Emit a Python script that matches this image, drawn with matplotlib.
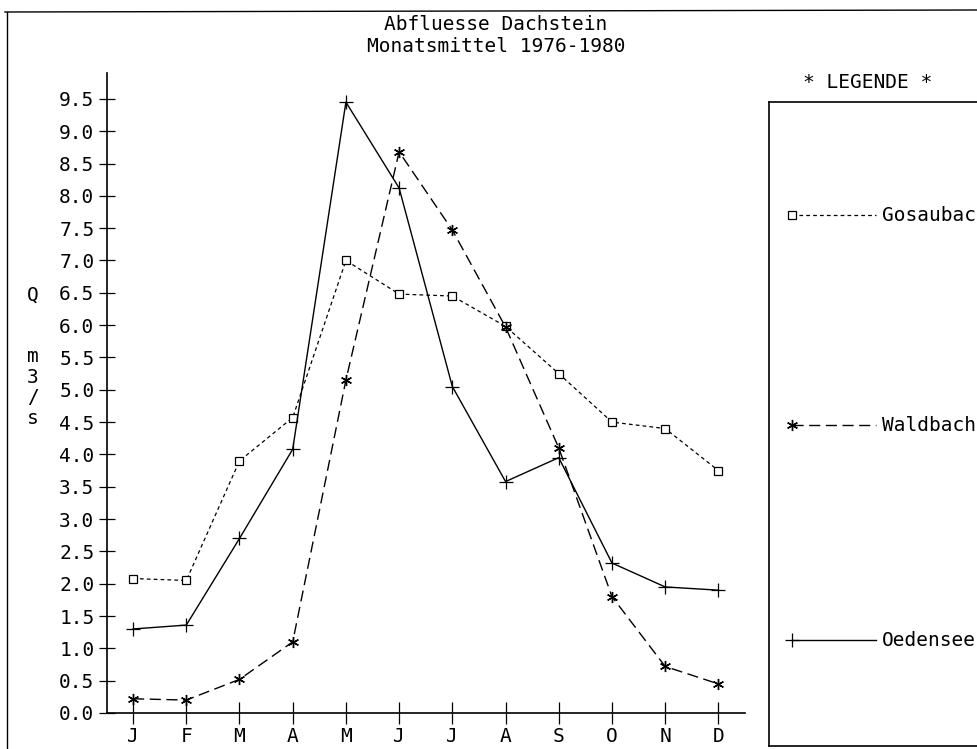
import numpy as np
import matplotlib.pyplot as plt
from matplotlib.lines import Line2D

plt.rcParams['font.family'] = ['DejaVu Sans Mono']

W, H = 978, 749
FS = 14

months = ['J', 'F', 'M', 'A', 'M', 'J', 'J', 'A', 'S', 'O', 'N', 'D']
gosaubach = [2.08, 2.05, 3.90, 4.57, 7.00, 6.48, 6.45, 5.98, 5.25, 4.50, 4.40, 3.75]
waldbach = [0.22, 0.20, 0.52, 1.10, 5.15, 8.68, 7.47, 5.97, 4.10, 1.80, 0.72, 0.45]
oedensee = [1.30, 1.36, 2.70, 4.08, 9.45, 8.12, 5.05, 3.58, 3.95, 2.32, 1.95, 1.90]
yticks = np.arange(0, 9.51, 0.5)

names = ['Gosaubach', 'Waldbach', 'Oedensee']
styles = [
    dict(marker='s', ms=6, mfc='white', mec='black', mew=0.9,
         ls=(0, (3, 2.5)), lw=0.9, color='black'),
    dict(marker=(6, 2, 0), ms=8, mec='black', mew=1.0,
         ls=(0, (8, 4)), lw=1.0, color='black'),
    dict(marker='+', ms=10, mec='black', mew=0.9,
         ls='-', lw=1.0, color='black'),
]
series = [gosaubach, waldbach, oedensee]


def fx(px):
    return px / W


def fy(py):
    return 1 - py / H


fig = plt.figure(figsize=(W / 100, H / 100), dpi=100)

# main plot area
ax = fig.add_axes([fx(107), fy(713), fx(745) - fx(107), fy(73) - fy(713)])
x = np.arange(len(months))
for vals, st in zip(series, styles):
    ax.plot(x, vals, **st)

ax.set_xlim(-0.49, 11.5)
ax.set_ylim(0, 9.9)
ax.set_xticks(x)
ax.set_xticklabels(months)
ax.set_yticks(yticks)
ax.set_yticklabels(['%.1f' % v for v in yticks])
for s in ['top', 'right']:
    ax.spines[s].set_visible(False)
for s in ['left', 'bottom']:
    ax.spines[s].set_linewidth(1.2)
ax.tick_params(axis='y', direction='inout', length=12, width=0.9,
               labelsize=FS, pad=3)
ax.tick_params(axis='x', direction='inout', length=16, width=0.9,
               labelsize=FS, pad=2)

# stacked unit label
fig.text(fx(33), fy(357), 'Q\n\n\nm\n3\n/\ns', ha='center', va='center',
         fontsize=FS, linespacing=1.1)

fig.text(fx(496), fy(25), 'Abfluesse Dachstein', ha='center', va='center',
         fontsize=FS)
fig.text(fx(496), fy(46), 'Monatsmittel 1976-1980', ha='center', va='center',
         fontsize=FS)

# outer frame
fig.add_artist(Line2D([fx(5), 1], [fy(12), fy(10)], color='black', lw=1.0))
fig.add_artist(Line2D([fx(7), fx(7)], [fy(12), 0], color='black', lw=1.0))

# legend panel, running off the right edge
fig.text(fx(868), fy(83), '* LEGENDE *', ha='center', va='center', fontsize=FS)
lg = fig.add_axes([fx(769), fy(746), fx(1010) - fx(769), fy(102) - fy(746)])
lg.set_xlim(769, 1010)
lg.set_ylim(746, 102)
lg.set_xticks([])
lg.set_yticks([])
lg.spines['right'].set_visible(False)
for s in ['left', 'top', 'bottom']:
    lg.spines[s].set_linewidth(1.2)
rows = [215, 425, 640]
for name, st, yy in zip(names, styles, rows):
    lg.plot([792, 876], [yy, yy], ls=st['ls'], lw=st['lw'], color='black')
    lg.plot([792], [yy], ls='none', **{k: v for k, v in st.items()
                                       if k not in ('ls', 'lw', 'color')},
            color='black')
    lg.text(882, yy, name, ha='left', va='center', fontsize=FS)

fig.savefig('out.png', dpi=100)
